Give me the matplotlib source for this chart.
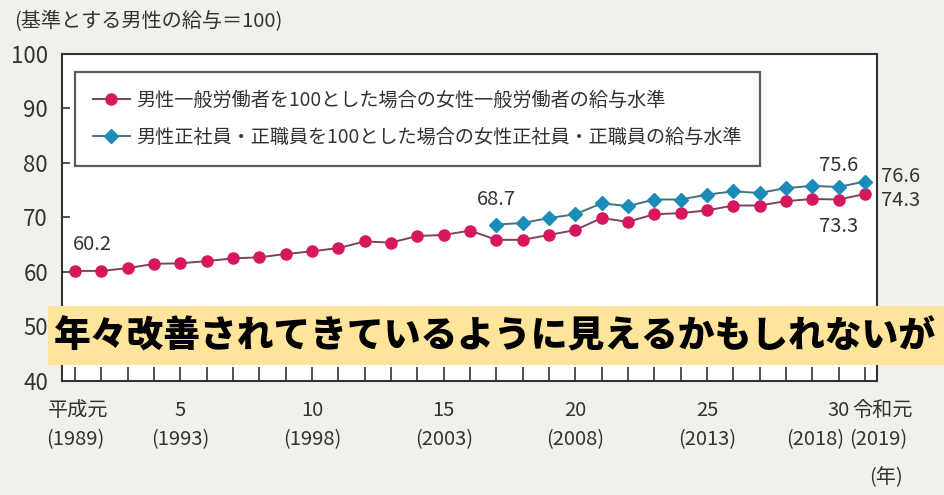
import numpy as np
import matplotlib
matplotlib.use("Agg")
import matplotlib.pyplot as plt
import matplotlib.transforms as mtransforms

# fonts
num_fam = ["Noto Sans CJK JP", "DejaVu Sans"]
jp_fam = ["Noto Sans CJK JP", "DejaVu Sans"]
plt.rcParams["font.family"] = jp_fam

# data
years_all = list(range(1989, 2020))
women_general = [60.2, 60.2, 60.7, 61.5, 61.6, 62.0, 62.5, 62.7, 63.3, 63.8,
                 64.4, 65.6, 65.4, 66.6, 66.8, 67.6, 65.9, 65.9, 66.8, 67.7,
                 69.9, 69.2, 70.6, 70.8, 71.3, 72.2, 72.2, 73.0, 73.4, 73.3, 74.3]
years_reg = list(range(2005, 2020))
women_regular = [68.7, 69.0, 69.9, 70.6, 72.6, 72.1, 73.3, 73.3, 74.2, 74.8,
                 74.5, 75.4, 75.8, 75.6, 76.6]
label_general = "男性一般労働者を100とした場合の女性一般労働者の給与水準"
label_regular = "男性正社員・正職員を100とした場合の女性正社員・正職員の給与水準"
tick_years = [1989, 1993, 1998, 2003, 2008, 2013, 2018, 2019]
tick_top = ["平成元", "5", "10", "15", "20", "25", "30", "令和元"]
tick_bottom = ["(1989)", "(1993)", "(1998)", "(2003)", "(2008)", "(2013)", "(2018)", "(2019)"]
yticks = [40, 50, 60, 70, 80, 90, 100]
banner = "年々改善されてきているように見えるかもしれないが"

pink = "#d6175f"
blue = "#1b8bb8"
bg = "#f2f0eb"
txt = "#333333"

fig = plt.figure(figsize=(9.44, 4.95), dpi=100, facecolor=bg)
ax = fig.add_axes([62 / 944, 1 - 381 / 495, 815 / 944, 327 / 495])
ax.set_facecolor("white")

ax.plot(years_all, women_general, color="#7a4558", lw=1.4, marker="o",
        markersize=8, markerfacecolor=pink, markeredgecolor=pink,
        label=label_general, zorder=3)
ax.plot(years_reg, women_regular, color="#46707e", lw=1.4, marker="D",
        markersize=7, markerfacecolor=blue, markeredgecolor=blue,
        label=label_regular, zorder=3)

ax.set_xlim(1988.5, 2019.46)
ax.set_ylim(40, 100)

for s in ax.spines.values():
    s.set_color(txt)
    s.set_linewidth(1.5)

ax.set_xticks(years_all)
ax.set_xticklabels([])
ax.tick_params(axis="x", direction="in", length=10, width=1.2, color=txt)
ax.set_yticks(yticks)
ax.set_yticklabels([str(v) for v in yticks], fontfamily=num_fam, fontsize=16,
                   color=txt)
ax.tick_params(axis="y", direction="in", length=6, width=1.2, pad=10, color=txt)

# x labels in two rows
trans = mtransforms.blended_transform_factory(ax.transData, fig.transFigure)
shift_top = {1989: 0.1, 2019: 0.65}
shift_bot = {2018: -0.9, 2019: 0.5}
for yr, t, b in zip(tick_years, tick_top, tick_bottom):
    ax.text(yr + shift_top.get(yr, 0), 1 - 410 / 495, t, transform=trans,
            ha="center", va="center", fontsize=14.5, fontfamily=num_fam, color=txt)
    ax.text(yr + shift_bot.get(yr, 0), 1 - 440 / 495, b, transform=trans,
            ha="center", va="center", fontsize=14.5, fontfamily=num_fam, color=txt)
ax.text(2019.8, 1 - 478 / 495, "(年)", transform=trans, ha="center", va="center",
        fontsize=14.5, fontfamily=num_fam, color=txt)

# value labels
notes = [(years_all[0], women_general[0], 17, 26, "center"),
         (years_reg[0], women_regular[0], 0, 25, "center"),
         (years_reg[-2], women_regular[-2], 0, 21, "center"),
         (years_all[-2], women_general[-2], 0, -27, "center"),
         (years_reg[-1], women_regular[-1], 16, 5, "left"),
         (years_all[-1], women_general[-1], 16, -6, "left")]
for x, y, dx, dy, ha in notes:
    ax.annotate(f"{y:.1f}", (x, y), xytext=(dx, dy), textcoords="offset pixels",
                ha=ha, va="center", fontsize=14.5, fontfamily=num_fam,
                color=txt, annotation_clip=False)

leg = ax.legend(loc="upper left", bbox_to_anchor=(0.016, 0.945), fontsize=13.8,
                frameon=True, fancybox=False, edgecolor=txt,
                handlelength=1.9, handletextpad=0.35, borderpad=0.95,
                labelspacing=0.8, borderaxespad=0)
leg.get_frame().set_linewidth(1.6)
for t in leg.get_texts():
    t.set_color(txt)

# header
fig.text(14 / 944, 1 - 22 / 495, "(基準とする男性の給与＝100)", ha="left",
         va="center", fontsize=14.5, fontfamily=num_fam, color=txt)

# banner
fig.patches.append(plt.Rectangle((48 / 944, 1 - 365 / 495), 1 - 48 / 944, 59 / 495,
                                 transform=fig.transFigure, facecolor="#ffe49c",
                                 edgecolor="none", zorder=5))
fig.text(54 / 944, 1 - 336 / 495, banner, ha="left", va="center", fontsize=26.5,
         fontweight="black", color="black", fontfamily=jp_fam, zorder=6)

fig.savefig("out.png", dpi=100, facecolor=bg)
